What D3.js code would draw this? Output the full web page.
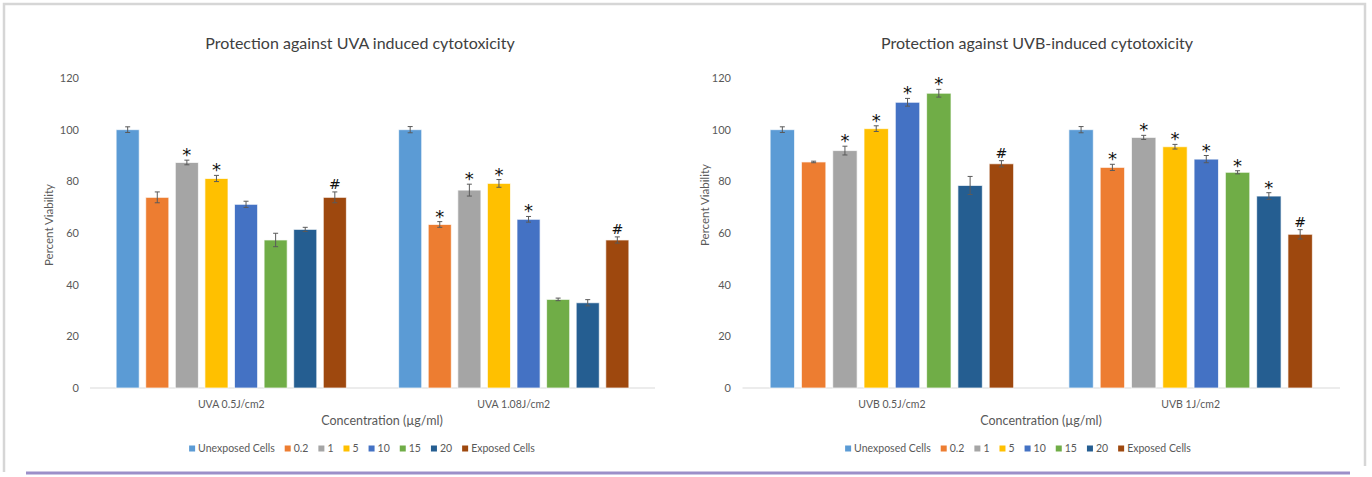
<!DOCTYPE html>
<html>
<head>
<meta charset="utf-8">
<script src="https://cdn.jsdelivr.net/npm/d3@7"></script>
<style>
  html, body { margin: 0; padding: 0; background: #fff; }
  svg { display: block; font-family: Lato, "Liberation Sans", sans-serif; }
</style>
</head>
<body>
<svg id="chart" width="1372" height="477"></svg>
<script>
// Concentration series shown in each cluster (µg/ml), plus controls
const seriesNames = ["Unexposed Cells", "0.2", "1", "5", "10", "15", "20", "Exposed Cells"];
const seriesColors = ["#5B9BD5", "#ED7D31", "#A5A5A5", "#FFC000", "#4472C4", "#70AD47", "#255E91", "#9E480E"];
const yTicks = [0, 20, 40, 60, 80, 100, 120];

// UVA panel
const uvaGroups = ["UVA 0.5J/cm2", "UVA 1.08J/cm2"];
const uvaMeans = [
  [100, 73.8, 87.3, 81.1, 71.1, 57.3, 61.4, 73.8],
  [100, 63.3, 76.6, 79.2, 65.3, 34.3, 33.0, 57.3]
];
const uvaErrors = [
  [1.1, 2.1, 0.9, 1.2, 1.2, 2.6, 0.8, 2.1],
  [1.2, 1.1, 2.3, 1.5, 1.1, 0.5, 1.2, 1.2]
];
const uvaMarks = [
  ["", "", "*", "*", "", "", "", "#"],
  ["", "*", "*", "*", "*", "", "", "#"]
];

// UVB panel
const uvbGroups = ["UVB 0.5J/cm2", "UVB 1J/cm2"];
const uvbMeans = [
  [100, 87.5, 91.9, 100.4, 110.6, 114.1, 78.4, 86.8],
  [100, 85.4, 97.0, 93.4, 88.6, 83.5, 74.3, 59.5]
];
const uvbErrors = [
  [1.1, 0.3, 1.7, 1.1, 1.5, 1.5, 3.5, 1.2],
  [1.2, 1.2, 0.8, 0.9, 1.4, 0.6, 1.3, 1.8]
];
const uvbMarks = [
  ["", "", "*", "*", "*", "*", "", "#"],
  ["", "*", "*", "*", "*", "*", "*", "#"]
];

const svg = d3.select("#chart");

// outer frame
svg.append("path")
  .attr("d", "M4,472 L4,4 L1365,4 L1365,466")
  .attr("fill", "none").attr("stroke", "#d6d6d6").attr("stroke-width", 2.5);
svg.append("line")
  .attr("x1", 26).attr("x2", 1350).attr("y1", 473).attr("y2", 473)
  .attr("stroke", "#9c8fc9").attr("stroke-width", 3);

function drawPanel(p) {
  const g = svg.append("g");
  const y = d3.scaleLinear().domain([0, 120]).range([388, 78]);
  const x0 = d3.scaleBand().domain(p.groups).range([p.left, p.right])
    .paddingInner(0.185).paddingOuter(0.0925);
  const x1 = d3.scaleBand().domain(seriesNames).range([0, x0.bandwidth()])
    .paddingInner(0.22).paddingOuter(0);

  // title
  g.append("text").attr("x", p.titleX).attr("y", 49)
    .attr("text-anchor", "middle").attr("font-size", 16).attr("fill", "#404040")
    .text(p.title);

  // y axis labels
  const ya = g.append("g").attr("transform", `translate(${p.tickRight},0)`)
    .call(d3.axisLeft(y).tickValues(yTicks).tickSize(0).tickPadding(0));
  ya.select(".domain").remove();
  ya.selectAll("text").attr("font-size", 11).attr("fill", "#595959")
    .attr("font-family", "Lato, sans-serif");

  // baseline
  g.append("line").attr("x1", p.left).attr("x2", p.right)
    .attr("y1", y(0)).attr("y2", y(0))
    .attr("stroke", "#d9d9d9").attr("stroke-width", 1);

  // category axis
  const xa = g.append("g").attr("transform", `translate(0,${y(0)})`)
    .call(d3.axisBottom(x0).tickSize(0).tickPadding(13));
  xa.select(".domain").remove();
  xa.selectAll("text").attr("font-size", 10.5).attr("fill", "#595959")
    .attr("font-family", "Lato, sans-serif");

  // axis titles
  g.append("text").attr("x", p.xTitleX).attr("y", 425)
    .attr("text-anchor", "middle").attr("font-size", 12.5).attr("fill", "#595959")
    .text("Concentration (µg/ml)");
  g.append("text")
    .attr("transform", `translate(${p.yTitleX},${p.yTitleY}) rotate(-90)`)
    .attr("text-anchor", "middle").attr("font-size", 11.5).attr("fill", "#595959")
    .text("Percent Viability");

  // bars, error bars and significance marks
  p.groups.forEach((grp, gi) => {
    const cg = g.append("g").attr("transform", `translate(${x0(grp)},0)`);
    const rows = seriesNames.map((s, si) => ({
      s, v: p.means[gi][si], e: p.errors[gi][si], m: p.marks[gi][si], c: seriesColors[si]
    }));
    cg.selectAll("rect").data(rows).join("rect")
      .attr("x", d => x1(d.s)).attr("width", x1.bandwidth())
      .attr("y", d => y(d.v)).attr("height", d => y(0) - y(d.v))
      .attr("fill", d => d.c)
      .attr("stroke", "#ffffff").attr("stroke-opacity", 0.7).attr("stroke-width", 1);
    const eb = cg.selectAll("g.err").data(rows).join("g").attr("class", "err")
      .attr("stroke", "#5a5a5a").attr("stroke-width", 1);
    eb.append("line")
      .attr("x1", d => x1(d.s) + x1.bandwidth() / 2).attr("x2", d => x1(d.s) + x1.bandwidth() / 2)
      .attr("y1", d => y(d.v + d.e)).attr("y2", d => y(d.v - d.e));
    [1, -1].forEach(sign => {
      eb.append("line")
        .attr("x1", d => x1(d.s) + x1.bandwidth() / 2 - 2.5)
        .attr("x2", d => x1(d.s) + x1.bandwidth() / 2 + 2.5)
        .attr("y1", d => y(d.v + sign * d.e)).attr("y2", d => y(d.v + sign * d.e));
    });
    cg.selectAll("text.mark").data(rows.filter(d => d.m)).join("text")
      .attr("class", "mark")
      .attr("x", d => x1(d.s) + x1.bandwidth() / 2)
      .attr("y", d => d.m === "*" ? y(d.v + d.e) + 1 : y(d.v + d.e) - 3)
      .attr("text-anchor", "middle")
      .attr("font-family", "'DejaVu Sans', sans-serif")
      .attr("font-size", d => d.m === "*" ? 18 : 14)
      .attr("fill", "#111")
      .text(d => d.m);
  });

  // legend, centred under the panel
  const lg = g.append("g").attr("font-size", 10.5).attr("fill", "#595959");
  let cx = 0;
  seriesNames.forEach((s, i) => {
    const it = lg.append("g");
    it.append("rect").attr("x", 0).attr("y", -6.5).attr("width", 6).attr("height", 6)
      .attr("fill", seriesColors[i]);
    const t = it.append("text").attr("x", 9).attr("y", 0).text(s);
    const w = 9 + t.node().getComputedTextLength();
    it.attr("transform", `translate(${cx},0)`);
    cx += w + 10;
  });
  const total = cx - 10;
  lg.attr("transform", `translate(${p.legendX - total / 2},${452})`);
}

drawPanel({
  title: "Protection against UVA induced cytotoxicity", titleX: 360,
  groups: uvaGroups, means: uvaMeans, errors: uvaErrors, marks: uvaMarks,
  left: 90, right: 655, tickRight: 79,
  xTitleX: 382, yTitleX: 53, yTitleY: 225, legendX: 362
});
drawPanel({
  title: "Protection against UVB-induced cytotoxicity", titleX: 1037,
  groups: uvbGroups, means: uvbMeans, errors: uvbErrors, marks: uvbMarks,
  left: 742.5, right: 1340, tickRight: 731,
  xTitleX: 1041, yTitleX: 709, yTitleY: 205, legendX: 1018
});
</script>
</body>
</html>
